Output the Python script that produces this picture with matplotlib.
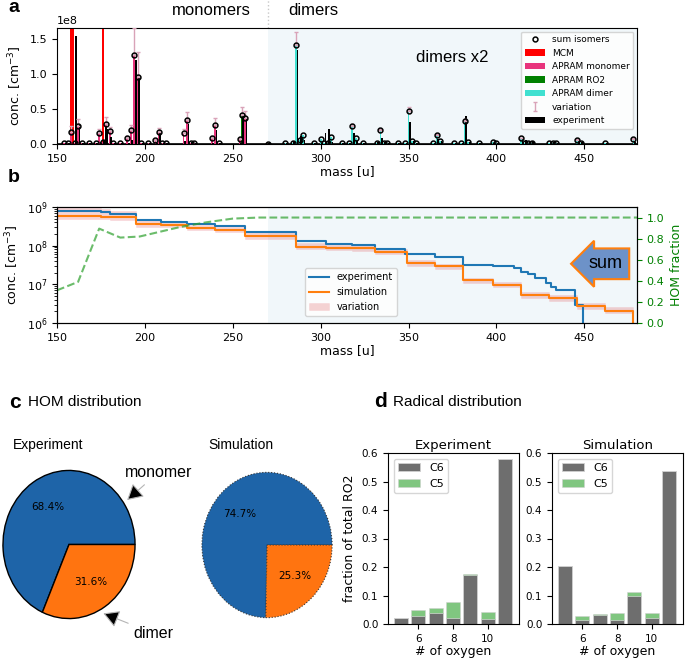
import numpy as np
import matplotlib
matplotlib.use('Agg')
import matplotlib.pyplot as plt
import matplotlib.transforms as mtransforms

# ---- panel a: spectrum (values in 1e8 cm-3) ----
mass_a = [154, 156, 158, 159, 160, 162, 164, 168, 172, 174, 176, 177, 178, 180, 182, 186,
          190, 192, 194, 196, 198, 202, 206, 208, 210, 212, 222, 224, 226, 228, 238, 240,
          242, 254, 255, 257,
          270, 280, 284, 286, 288, 290, 296, 300, 302, 304, 306, 312, 316, 318, 320, 324,
          332, 334, 336, 338, 344, 348, 350, 352, 354, 364, 366, 368, 376, 380, 382, 384,
          390, 398, 400, 414, 416, 418, 420, 430, 432, 434, 446, 448, 462, 478]
exp_a = [0.01, 0.01, 0.0, 0.0, 1.54, 0.27, 0.02, 0.01, 0.01, 0.03, 0.05, 0.26, 0.22, 0.10, 0.01, 0.01,
         0.02, 0.05, 1.20, 0.95, 0.01, 0.01, 0.01, 0.15, 0.02, 0.01, 0.04, 0.28, 0.03, 0.02, 0.01, 0.20,
         0.01, 0.02, 0.40, 0.37,
         0.01, 0.01, 0.04, 1.33, 0.12, 0.05, 0.01, 0.02, 0.15, 0.22, 0.03, 0.02, 0.02, 0.15, 0.04, 0.02,
         0.03, 0.08, 0.03, 0.02, 0.01, 0.02, 0.32, 0.04, 0.02, 0.02, 0.07, 0.04, 0.01, 0.02, 0.40, 0.03,
         0.01, 0.02, 0.02, 0.07, 0.05, 0.04, 0.04, 0.03, 0.03, 0.02, 0.04, 0.03, 0.01, 0.03]
mcm = [0, 0, 2.0, 2.0, 0, 0, 0, 0, 0, 0, 2.0, 0, 0, 0, 0, 0,
       0, 0, 0, 0, 0, 0, 0, 0, 0, 0, 0, 0, 0, 0, 0, 0,
       0, 0, 0, 0,
       0, 0, 0, 0, 0, 0, 0, 0, 0, 0, 0, 0, 0, 0, 0, 0,
       0, 0, 0, 0, 0, 0, 0, 0, 0, 0, 0, 0, 0, 0, 0, 0,
       0, 0, 0, 0, 0, 0, 0, 0, 0, 0, 0, 0, 0, 0]
apram_mono = [0.01, 0.02, 0.17, 0, 0.02, 0.26, 0.01, 0.01, 0.01, 0.16, 0.03, 0, 0.29, 0.18, 0.01, 0.01,
              0.09, 0.20, 1.26, 0.96, 0.01, 0.01, 0.05, 0.17, 0.02, 0.01, 0.16, 0.34, 0.02, 0.01, 0.08, 0.27,
              0.01, 0.07, 0, 0.37,
              0, 0, 0, 0, 0, 0, 0, 0, 0, 0, 0, 0, 0, 0, 0, 0,
              0, 0, 0, 0, 0, 0, 0, 0, 0, 0, 0, 0, 0, 0, 0, 0,
              0, 0, 0, 0, 0, 0, 0, 0, 0, 0, 0, 0, 0, 0]
apram_ro2 = [0, 0, 0, 0, 0, 0, 0, 0, 0, 0, 0, 0, 0, 0, 0, 0,
             0, 0, 0, 0, 0, 0, 0, 0, 0, 0, 0, 0, 0, 0, 0, 0,
             0, 0, 0.41, 0,
             0, 0, 0, 0, 0, 0, 0, 0, 0, 0, 0, 0, 0, 0, 0, 0,
             0, 0, 0, 0, 0, 0, 0, 0, 0, 0, 0, 0, 0, 0, 0, 0,
             0, 0, 0, 0, 0, 0, 0, 0, 0, 0, 0, 0, 0, 0]
apram_dimer = [0, 0, 0, 0, 0, 0, 0, 0, 0, 0, 0, 0, 0, 0, 0, 0,
               0, 0, 0, 0, 0, 0, 0, 0, 0, 0, 0, 0, 0, 0, 0, 0,
               0, 0, 0, 0,
               0.005, 0.01, 0.01, 1.41, 0.05, 0.13, 0.01, 0.07, 0.01, 0.01, 0.10, 0.01, 0.01, 0.26, 0.09, 0.01,
               0.02, 0.20, 0.02, 0.01, 0.01, 0.01, 0.47, 0.04, 0.02, 0.01, 0.13, 0.04, 0.01, 0.01, 0.33, 0.03,
               0.01, 0.03, 0.01, 0.08, 0.01, 0.01, 0.01, 0.02, 0.01, 0.01, 0.06, 0.01, 0.02, 0.07]
var_up = [0, 0, 0.08, 0, 0, 0.10, 0, 0, 0, 0.05, 0, 0, 0.09, 0.06, 0, 0,
          0.03, 0.07, 0.39, 0.35, 0, 0, 0.02, 0.06, 0, 0, 0.06, 0.12, 0, 0, 0.03, 0.10,
          0, 0.02, 0.11, 0.10,
          0, 0, 0, 0.19, 0, 0, 0, 0, 0, 0, 0, 0, 0, 0.02, 0, 0,
          0, 0.02, 0, 0, 0, 0, 0.06, 0, 0, 0, 0.01, 0, 0, 0, 0.03, 0,
          0, 0, 0, 0.01, 0, 0, 0, 0, 0, 0, 0.01, 0, 0, 0.01]

# ---- panel b: cumulative sums ----
exp_b_mass = [150, 175, 180, 195, 209, 224, 240, 257, 286, 303, 318, 331, 348, 365, 381, 398,
              410, 414, 418, 422, 428, 431, 434, 445, 449]
exp_b = [7.7e8, 7.3e8, 6.4e8, 4.5e8, 4.1e8, 3.6e8, 3.2e8, 2.3e8, 1.35e8, 1.1e8, 1.07e8, 8.1e7,
         6.2e7, 5.2e7, 3.1e7, 3.0e7, 2.6e7, 2.1e7, 1.8e7, 1.5e7, 1.1e7, 8.5e6, 7.2e6, 3.0e6, 1e5]
sim_b_mass = [150, 175, 180, 195, 209, 224, 240, 257, 286, 303, 318, 331, 349, 365, 381, 398,
              414, 430, 446, 462, 478]
sim_b = [5.9e8, 5.6e8, 5.5e8, 3.7e8, 3.5e8, 2.9e8, 2.6e8, 1.8e8, 9.5e7, 8.8e7, 8.7e7, 7.0e7,
         3.6e7, 2.9e7, 1.27e7, 9.8e6, 5.2e6, 4.5e6, 2.7e6, 2.1e6, 1e5]
sim_hi = [9.5e8, 9.0e8, 8.0e8, 4.6e8, 4.3e8, 3.5e8, 3.1e8, 2.2e8, 1.15e8, 1.05e8, 1.02e8, 8.2e7,
          4.3e7, 3.4e7, 1.5e7, 1.15e7, 6.2e6, 5.3e6, 3.3e6, 2.6e6, 1e5]
sim_lo = [5.0e8, 4.8e8, 4.7e8, 3.1e8, 3.0e8, 2.5e8, 2.2e8, 1.5e8, 8.0e7, 7.5e7, 7.4e7, 6.0e7,
          3.0e7, 2.5e7, 1.08e7, 8.3e6, 4.4e6, 3.8e6, 2.3e6, 1.8e6, 1e5]
hom_mass = [150, 162, 174, 186, 197, 220, 235, 250, 265, 480]
hom_frac = [0.31, 0.39, 0.895, 0.81, 0.82, 0.91, 0.955, 0.99, 1.0, 1.0]

# ---- panel c ----
pie_labels = ['monomer', 'dimer']
pie_exp = [68.4, 31.6]
pie_sim = [74.7, 25.3]

# ---- panel d ----
n_oxygen = [5, 6, 7, 8, 9, 10, 11]
exp_c6 = [0.022, 0.028, 0.037, 0.022, 0.172, 0.016, 0.578]
exp_c5 = [0.0, 0.020, 0.019, 0.056, 0.003, 0.026, 0.0]
sim_c6 = [0.205, 0.013, 0.031, 0.015, 0.098, 0.022, 0.537]
sim_c5 = [0.0, 0.014, 0.003, 0.023, 0.016, 0.018, 0.0]

W, H = 685, 658
fig = plt.figure(figsize=(W / 100, H / 100), dpi=100)
TXT = 'Liberation Sans'


def px_axes(l, t, r, b):
    return fig.add_axes([l / W, 1 - b / H, (r - l) / W, (b - t) / H])


blue_shade = dict(color='tab:blue', alpha=0.06, lw=0)

# ================= a =================
axa = px_axes(57, 28, 637, 144)
axa.axvspan(270, 480, **blue_shade)
m = np.array(mass_a, dtype=float)
mono = np.array(apram_mono) * 1e8
ro2 = np.array(apram_ro2) * 1e8
dim = np.array(apram_dimer) * 1e8
tot = mono + ro2 + dim
axa.axhline(0, color='k', lw=1.2, zorder=1)
b_exp = axa.bar(m + 0.8, np.array(exp_a) * 1e8, width=1.0, color='k', zorder=3, label='experiment')
b_mcm = axa.bar(m, np.array(mcm) * 1e8, width=1.0, color='red', zorder=2, label='MCM')
b_mono = axa.bar(m, mono, width=1.0, color='#e8347c', zorder=2, label='APRAM monomer')
b_ro2 = axa.bar(m, ro2, bottom=mono, width=1.0, color='green', zorder=2, label='APRAM RO2')
b_dim = axa.bar(m, dim, bottom=mono + ro2, width=1.0, color='turquoise', zorder=2, label='APRAM dimer')
up = np.array(var_up) * 1e8
sel = up > 0
err = axa.errorbar(m[sel], tot[sel], yerr=[np.zeros(sel.sum()), up[sel]], fmt='none',
                   ecolor='#d9a3b8', elinewidth=1, capsize=1.5, zorder=4, label='variation')
pos = tot > 0
circ, = axa.plot(m[pos], tot[pos], 'o', ls='none', mfc='none', mec='k', ms=3.5, mew=1.1,
                 zorder=5, label='sum isomers')
axa.set_xlim(150, 480)
axa.set_ylim(0, 1.65e8)
axa.set_xticks([150, 200, 250, 300, 350, 400, 450])
axa.tick_params(labelsize=8)
axa.yaxis.get_offset_text().set_fontsize(8)
axa.set_xlabel('mass [u]', fontsize=9, labelpad=1)
axa.set_ylabel('conc. [cm$^{-3}$]', fontsize=9)
axa.legend([circ, b_mcm, b_mono, b_ro2, b_dim, err, b_exp],
           ['sum isomers', 'MCM', 'APRAM monomer', 'APRAM RO2', 'APRAM dimer', 'variation', 'experiment'],
           loc='upper right', fontsize=6.5, borderaxespad=0.4, handlelength=2.2)
trans_a = mtransforms.blended_transform_factory(axa.transData, axa.transAxes)
axa.text(238, 1.155, 'monomers', transform=trans_a, ha='center', va='center', fontsize=12, family=TXT)
axa.text(296, 1.155, 'dimers', transform=trans_a, ha='center', va='center', fontsize=12, family=TXT)
axa.plot([270, 270], [1.0, 1.25], transform=trans_a, ls=':', color='#c8c8c8', lw=1, clip_on=False)
axa.text(375, 0.75, 'dimers x2', transform=trans_a, ha='center', va='center', fontsize=12, family=TXT)
fig.text(8 / W, 1 - 8 / H, 'a', fontsize=14, weight='bold', family=TXT, va='center')

# ================= b =================
axb = px_axes(57, 207, 637, 323)
axb.axvspan(270, 480, **blue_shade)
fb = axb.fill_between(sim_b_mass, sim_lo, sim_hi, step='post', color='tab:red', alpha=0.2,
                      edgecolor='#f0a0a8', lw=0.6, label='variation')
le, = axb.step(exp_b_mass, exp_b, where='post', color='tab:blue', lw=1.5, label='experiment')
ls_, = axb.step(sim_b_mass, sim_b, where='post', color='tab:orange', lw=1.5, label='simulation')
axb.set_yscale('log')
axb.set_ylim(1e6, 1e9)
axb.set_xlim(150, 480)
axb.set_xticks([150, 200, 250, 300, 350, 400, 450])
axb.tick_params(labelsize=8)
axb.set_xlabel('mass [u]', fontsize=9, labelpad=1)
axb.set_ylabel('conc. [cm$^{-3}$]', fontsize=9)
axb.legend([le, ls_, fb], ['experiment', 'simulation', 'variation'], loc='lower left',
           bbox_to_anchor=(0.42, 0.02), fontsize=7)
axb.text(462, 3.4e7, 'sum', ha='center', va='center', fontsize=13, family=TXT,
         bbox=dict(boxstyle='larrow,pad=0.38', fc='#6d92c8', ec='#ff7f0e', lw=1.5))
axb2 = axb.twinx()
axb2.plot(hom_mass, hom_frac, ls='--', color='tab:green', alpha=0.7, lw=1.5)
axb2.set_ylim(0, 1.1)
axb2.set_yticks([0, 0.2, 0.4, 0.6, 0.8, 1.0])
axb2.tick_params(labelsize=8, colors='green')
axb2.set_ylabel('HOM fraction', fontsize=9, color='green')
fig.text(8 / W, 1 - 178 / H, 'b', fontsize=14, weight='bold', family=TXT, va='center')

# ================= c =================
fig.text(9 / W, 1 - 403 / H, 'c', fontsize=15, weight='bold', family=TXT, va='center')
fig.text(28 / W, 1 - 402 / H, 'HOM distribution', fontsize=11, family=TXT, va='center')
pie_colors = ['#1e64a8', '#ff7410']

axc1 = px_axes(-1, 466, 139, 623)
axc1.pie(pie_exp, colors=pie_colors, autopct='%1.1f%%', startangle=0,
         wedgeprops=dict(edgecolor='k', lw=1), textprops=dict(fontsize=7.5))
axc1.set_aspect('auto')
axc1.set_xlim(-1.06, 1.06)
axc1.set_ylim(-1.06, 1.06)
arrow_kw = dict(arrowstyle='-|>,head_length=0.8,head_width=0.45', fc='k', ec='#b5b5b5', lw=0.8,
                mutation_scale=12, shrinkB=0)
axc1.annotate(pie_labels[0], xy=(0.88, 0.6), xytext=(1.35, 0.97), ha='center', va='center',
              fontsize=11.5, family=TXT, arrowprops=arrow_kw, annotation_clip=False)
axc1.annotate(pie_labels[1], xy=(0.52, -0.93), xytext=(1.28, -1.2), ha='center', va='center',
              fontsize=11.5, family=TXT, arrowprops=arrow_kw, annotation_clip=False)
fig.text(13 / W, 1 - 445 / H, 'Experiment', fontsize=10, family=TXT, va='center')

axc2 = px_axes(198, 468, 336, 622)
axc2.pie(pie_sim, colors=pie_colors, autopct='%1.1f%%', startangle=0,
         wedgeprops=dict(edgecolor='#333333', lw=0.8, ls=':'), textprops=dict(fontsize=7.5))
axc2.set_aspect('auto')
axc2.set_xlim(-1.06, 1.06)
axc2.set_ylim(-1.06, 1.06)
fig.text(208 / W, 1 - 445 / H, 'Simulation', fontsize=10, family=TXT, va='center')

# ================= d =================
fig.text(374 / W, 1 - 402 / H, 'd', fontsize=15, weight='bold', family=TXT, va='center')
fig.text(393 / W, 1 - 402 / H, 'Radical distribution', fontsize=11, family=TXT, va='center')
for (l, r), c6, c5, title in [((388, 519), exp_c6, exp_c5, 'Experiment'),
                              ((552, 683), sim_c6, sim_c5, 'Simulation')]:
    ax = px_axes(l, 453, r, 624)
    ax.bar(n_oxygen, c6, width=0.8, color='#6e6e6e', edgecolor='#d0d0d0', lw=0.6, label='C6')
    ax.bar(n_oxygen, c5, bottom=c6, width=0.8, color='tab:green', alpha=0.6,
           edgecolor='#d0d0d0', lw=0.6, label='C5')
    ax.set_xlim(4.25, 11.8)
    ax.set_ylim(0, 0.6)
    ax.set_xticks([6, 8, 10])
    ax.tick_params(labelsize=7.5)
    ax.set_title(title, fontsize=9.5, pad=3)
    ax.set_xlabel('# of oxygen', fontsize=9, labelpad=1)
    ax.legend(loc='upper left', fontsize=8)
    if title == 'Experiment':
        ax.set_ylabel('fraction of total RO2', fontsize=9)

fig.savefig('out.png', dpi=100)
